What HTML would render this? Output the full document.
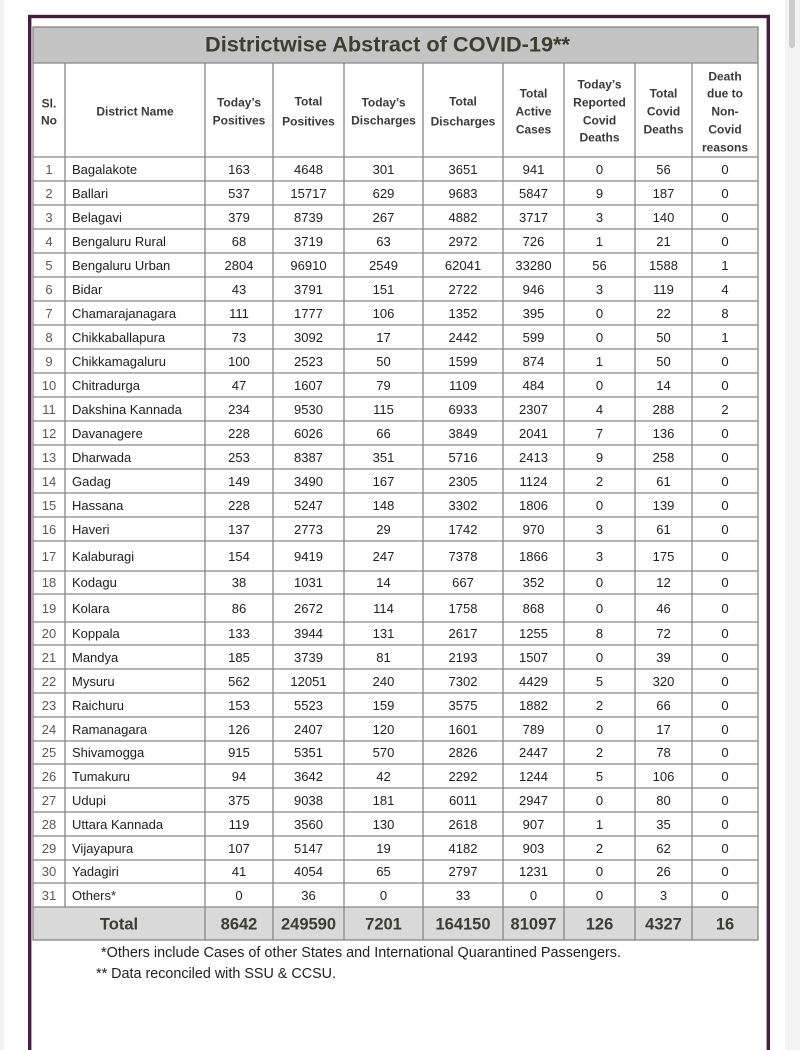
<!DOCTYPE html>
<html><head><meta charset="utf-8"><style>
html,body{margin:0;padding:0;background:#fff;}
svg{display:block;}
text{font-family:"Liberation Sans",Arial,sans-serif;}
.h{font-size:12px;font-weight:bold;fill:#3a3a3a;text-anchor:middle;}
.d text{font-size:13px;fill:#222;text-anchor:middle;}
.d text.s{fill:#5a5a5a;}
.d text.n{text-anchor:start;fill:#1e1e1e;}
.t text{font-size:16.5px;font-weight:bold;fill:#3d3d33;text-anchor:middle;}
.f{font-size:14.5px;fill:#222;}
</style></head><body>
<svg width="800" height="1050" viewBox="0 0 800 1050" xmlns="http://www.w3.org/2000/svg">
<rect x="0" y="0" width="800" height="1050" fill="#fff"/>
<rect x="0" y="0" width="4" height="1050" fill="#f1f1f1"/>
<rect x="785" y="0" width="15" height="1050" fill="#f4f4f4"/>
<rect x="789" y="-6" width="6" height="54" rx="3" fill="#cdcdcd"/>
<!-- frame -->
<rect x="29.7" y="16.5" width="738.6" height="1050" fill="none" stroke="#4a1a42" stroke-width="3.4"/>
<!-- title bar and total row fills -->
<rect x="33" y="27" width="725" height="36" fill="#c4c4c4"/>
<rect x="33" y="907" width="725" height="33" fill="#d9d9d9"/>
<text x="205" y="51.6" font-size="21" font-weight="bold" fill="#3f3d2b" textLength="365" lengthAdjust="spacingAndGlyphs">Districtwise Abstract of COVID-19**</text>
<!-- grid -->
<g stroke="#878787" stroke-width="1.3" fill="none">
<rect x="33" y="27" width="725" height="913"/>
<path d="M33 63H758M33 157H758M33 181H758M33 205H758M33 229H758M33 253H758M33 277H758M33 301H758M33 325H758M33 349H758M33 373H758M33 397H758M33 421H758M33 445H758M33 469H758M33 493H758M33 517H758M33 541H758M33 571H758M33 594H758M33 622H758M33 645H758M33 669H758M33 693H758M33 717H758M33 741H758M33 764H758M33 788H758M33 812H758M33 836H758M33 860H758M33 883H758M33 907H758"/>
<path d="M65 63V907M205 63V940M273 63V940M344 63V940M423 63V940M503 63V940M564 63V940M635 63V940M692 63V940"/>
</g>
<!-- header -->
<text class="h" x="49" y="107.3">Sl.</text><text class="h" x="49" y="124.3">No</text>
<text class="h" x="135" y="115.3">District Name</text>
<text class="h" x="239" y="106.3">Today’s</text><text class="h" x="239" y="124.3">Positives</text>
<text class="h" x="308.5" y="105.3">Total</text><text class="h" x="308.5" y="125.3">Positives</text>
<text class="h" x="383.5" y="106.3">Today’s</text><text class="h" x="383.5" y="124.3">Discharges</text>
<text class="h" x="463" y="105.3">Total</text><text class="h" x="463" y="125.3">Discharges</text>
<text class="h" x="533.5" y="97.3">Total</text><text class="h" x="533.5" y="115.3">Active</text><text class="h" x="533.5" y="133.3">Cases</text>
<text class="h" x="599.5" y="88.3">Today’s</text><text class="h" x="599.5" y="106.3">Reported</text><text class="h" x="599.5" y="124.3">Covid</text><text class="h" x="599.5" y="141.3">Deaths</text>
<text class="h" x="663.5" y="97.3">Total</text><text class="h" x="663.5" y="115.3">Covid</text><text class="h" x="663.5" y="133.3">Deaths</text>
<text class="h" x="725" y="80.3">Death</text><text class="h" x="725" y="97.3">due to</text><text class="h" x="725" y="115.3">Non-</text><text class="h" x="725" y="133.3">Covid</text><text class="h" x="725" y="151.3">reasons</text>
<!-- data rows -->
<g class="d">
<g transform="translate(0,174)"><text class="s" x="49">1</text><text class="n" x="72">Bagalakote</text><text x="239">163</text><text x="308.5">4648</text><text x="383.5">301</text><text x="463">3651</text><text x="533.5">941</text><text x="599.5">0</text><text x="663.5">56</text><text x="725">0</text></g>
<g transform="translate(0,198)"><text class="s" x="49">2</text><text class="n" x="72">Ballari</text><text x="239">537</text><text x="308.5">15717</text><text x="383.5">629</text><text x="463">9683</text><text x="533.5">5847</text><text x="599.5">9</text><text x="663.5">187</text><text x="725">0</text></g>
<g transform="translate(0,222)"><text class="s" x="49">3</text><text class="n" x="72">Belagavi</text><text x="239">379</text><text x="308.5">8739</text><text x="383.5">267</text><text x="463">4882</text><text x="533.5">3717</text><text x="599.5">3</text><text x="663.5">140</text><text x="725">0</text></g>
<g transform="translate(0,246)"><text class="s" x="49">4</text><text class="n" x="72">Bengaluru Rural</text><text x="239">68</text><text x="308.5">3719</text><text x="383.5">63</text><text x="463">2972</text><text x="533.5">726</text><text x="599.5">1</text><text x="663.5">21</text><text x="725">0</text></g>
<g transform="translate(0,270)"><text class="s" x="49">5</text><text class="n" x="72">Bengaluru Urban</text><text x="239">2804</text><text x="308.5">96910</text><text x="383.5">2549</text><text x="463">62041</text><text x="533.5">33280</text><text x="599.5">56</text><text x="663.5">1588</text><text x="725">1</text></g>
<g transform="translate(0,294)"><text class="s" x="49">6</text><text class="n" x="72">Bidar</text><text x="239">43</text><text x="308.5">3791</text><text x="383.5">151</text><text x="463">2722</text><text x="533.5">946</text><text x="599.5">3</text><text x="663.5">119</text><text x="725">4</text></g>
<g transform="translate(0,318)"><text class="s" x="49">7</text><text class="n" x="72">Chamarajanagara</text><text x="239">111</text><text x="308.5">1777</text><text x="383.5">106</text><text x="463">1352</text><text x="533.5">395</text><text x="599.5">0</text><text x="663.5">22</text><text x="725">8</text></g>
<g transform="translate(0,342)"><text class="s" x="49">8</text><text class="n" x="72">Chikkaballapura</text><text x="239">73</text><text x="308.5">3092</text><text x="383.5">17</text><text x="463">2442</text><text x="533.5">599</text><text x="599.5">0</text><text x="663.5">50</text><text x="725">1</text></g>
<g transform="translate(0,366)"><text class="s" x="49">9</text><text class="n" x="72">Chikkamagaluru</text><text x="239">100</text><text x="308.5">2523</text><text x="383.5">50</text><text x="463">1599</text><text x="533.5">874</text><text x="599.5">1</text><text x="663.5">50</text><text x="725">0</text></g>
<g transform="translate(0,390)"><text class="s" x="49">10</text><text class="n" x="72">Chitradurga</text><text x="239">47</text><text x="308.5">1607</text><text x="383.5">79</text><text x="463">1109</text><text x="533.5">484</text><text x="599.5">0</text><text x="663.5">14</text><text x="725">0</text></g>
<g transform="translate(0,414)"><text class="s" x="49">11</text><text class="n" x="72">Dakshina Kannada</text><text x="239">234</text><text x="308.5">9530</text><text x="383.5">115</text><text x="463">6933</text><text x="533.5">2307</text><text x="599.5">4</text><text x="663.5">288</text><text x="725">2</text></g>
<g transform="translate(0,438)"><text class="s" x="49">12</text><text class="n" x="72">Davanagere</text><text x="239">228</text><text x="308.5">6026</text><text x="383.5">66</text><text x="463">3849</text><text x="533.5">2041</text><text x="599.5">7</text><text x="663.5">136</text><text x="725">0</text></g>
<g transform="translate(0,462)"><text class="s" x="49">13</text><text class="n" x="72">Dharwada</text><text x="239">253</text><text x="308.5">8387</text><text x="383.5">351</text><text x="463">5716</text><text x="533.5">2413</text><text x="599.5">9</text><text x="663.5">258</text><text x="725">0</text></g>
<g transform="translate(0,486)"><text class="s" x="49">14</text><text class="n" x="72">Gadag</text><text x="239">149</text><text x="308.5">3490</text><text x="383.5">167</text><text x="463">2305</text><text x="533.5">1124</text><text x="599.5">2</text><text x="663.5">61</text><text x="725">0</text></g>
<g transform="translate(0,510)"><text class="s" x="49">15</text><text class="n" x="72">Hassana</text><text x="239">228</text><text x="308.5">5247</text><text x="383.5">148</text><text x="463">3302</text><text x="533.5">1806</text><text x="599.5">0</text><text x="663.5">139</text><text x="725">0</text></g>
<g transform="translate(0,534)"><text class="s" x="49">16</text><text class="n" x="72">Haveri</text><text x="239">137</text><text x="308.5">2773</text><text x="383.5">29</text><text x="463">1742</text><text x="533.5">970</text><text x="599.5">3</text><text x="663.5">61</text><text x="725">0</text></g>
<g transform="translate(0,561)"><text class="s" x="49">17</text><text class="n" x="72">Kalaburagi</text><text x="239">154</text><text x="308.5">9419</text><text x="383.5">247</text><text x="463">7378</text><text x="533.5">1866</text><text x="599.5">3</text><text x="663.5">175</text><text x="725">0</text></g>
<g transform="translate(0,587)"><text class="s" x="49">18</text><text class="n" x="72">Kodagu</text><text x="239">38</text><text x="308.5">1031</text><text x="383.5">14</text><text x="463">667</text><text x="533.5">352</text><text x="599.5">0</text><text x="663.5">12</text><text x="725">0</text></g>
<g transform="translate(0,613)"><text class="s" x="49">19</text><text class="n" x="72">Kolara</text><text x="239">86</text><text x="308.5">2672</text><text x="383.5">114</text><text x="463">1758</text><text x="533.5">868</text><text x="599.5">0</text><text x="663.5">46</text><text x="725">0</text></g>
<g transform="translate(0,638)"><text class="s" x="49">20</text><text class="n" x="72">Koppala</text><text x="239">133</text><text x="308.5">3944</text><text x="383.5">131</text><text x="463">2617</text><text x="533.5">1255</text><text x="599.5">8</text><text x="663.5">72</text><text x="725">0</text></g>
<g transform="translate(0,662)"><text class="s" x="49">21</text><text class="n" x="72">Mandya</text><text x="239">185</text><text x="308.5">3739</text><text x="383.5">81</text><text x="463">2193</text><text x="533.5">1507</text><text x="599.5">0</text><text x="663.5">39</text><text x="725">0</text></g>
<g transform="translate(0,686)"><text class="s" x="49">22</text><text class="n" x="72">Mysuru</text><text x="239">562</text><text x="308.5">12051</text><text x="383.5">240</text><text x="463">7302</text><text x="533.5">4429</text><text x="599.5">5</text><text x="663.5">320</text><text x="725">0</text></g>
<g transform="translate(0,710)"><text class="s" x="49">23</text><text class="n" x="72">Raichuru</text><text x="239">153</text><text x="308.5">5523</text><text x="383.5">159</text><text x="463">3575</text><text x="533.5">1882</text><text x="599.5">2</text><text x="663.5">66</text><text x="725">0</text></g>
<g transform="translate(0,734)"><text class="s" x="49">24</text><text class="n" x="72">Ramanagara</text><text x="239">126</text><text x="308.5">2407</text><text x="383.5">120</text><text x="463">1601</text><text x="533.5">789</text><text x="599.5">0</text><text x="663.5">17</text><text x="725">0</text></g>
<g transform="translate(0,757)"><text class="s" x="49">25</text><text class="n" x="72">Shivamogga</text><text x="239">915</text><text x="308.5">5351</text><text x="383.5">570</text><text x="463">2826</text><text x="533.5">2447</text><text x="599.5">2</text><text x="663.5">78</text><text x="725">0</text></g>
<g transform="translate(0,781)"><text class="s" x="49">26</text><text class="n" x="72">Tumakuru</text><text x="239">94</text><text x="308.5">3642</text><text x="383.5">42</text><text x="463">2292</text><text x="533.5">1244</text><text x="599.5">5</text><text x="663.5">106</text><text x="725">0</text></g>
<g transform="translate(0,805)"><text class="s" x="49">27</text><text class="n" x="72">Udupi</text><text x="239">375</text><text x="308.5">9038</text><text x="383.5">181</text><text x="463">6011</text><text x="533.5">2947</text><text x="599.5">0</text><text x="663.5">80</text><text x="725">0</text></g>
<g transform="translate(0,829)"><text class="s" x="49">28</text><text class="n" x="72">Uttara Kannada</text><text x="239">119</text><text x="308.5">3560</text><text x="383.5">130</text><text x="463">2618</text><text x="533.5">907</text><text x="599.5">1</text><text x="663.5">35</text><text x="725">0</text></g>
<g transform="translate(0,853)"><text class="s" x="49">29</text><text class="n" x="72">Vijayapura</text><text x="239">107</text><text x="308.5">5147</text><text x="383.5">19</text><text x="463">4182</text><text x="533.5">903</text><text x="599.5">2</text><text x="663.5">62</text><text x="725">0</text></g>
<g transform="translate(0,876)"><text class="s" x="49">30</text><text class="n" x="72">Yadagiri</text><text x="239">41</text><text x="308.5">4054</text><text x="383.5">65</text><text x="463">2797</text><text x="533.5">1231</text><text x="599.5">0</text><text x="663.5">26</text><text x="725">0</text></g>
<g transform="translate(0,900)"><text class="s" x="49">31</text><text class="n" x="72">Others*</text><text x="239">0</text><text x="308.5">36</text><text x="383.5">0</text><text x="463">33</text><text x="533.5">0</text><text x="599.5">0</text><text x="663.5">3</text><text x="725">0</text></g>
</g>
<!-- total -->
<g class="t" transform="translate(0,929.5)"><text x="119">Total</text><text x="239">8642</text><text x="308.5">249590</text><text x="383.5">7201</text><text x="463">164150</text><text x="533.5">81097</text><text x="599.5">126</text><text x="663.5">4327</text><text x="725">16</text></g>
<!-- footnotes -->
<text class="f" x="101" y="957" textLength="520" lengthAdjust="spacingAndGlyphs">*Others include Cases of other States and International Quarantined Passengers.</text>
<text class="f" x="96" y="978" textLength="240" lengthAdjust="spacingAndGlyphs">** Data reconciled with SSU &amp; CCSU.</text>
</svg>
</body></html>
